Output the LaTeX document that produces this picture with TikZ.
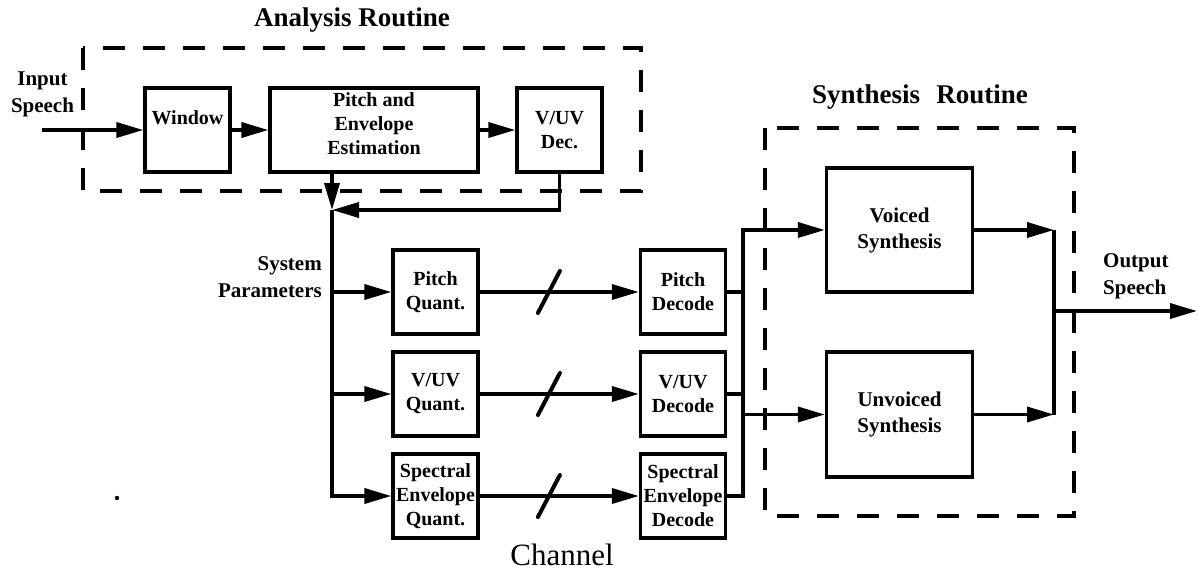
\documentclass[tikz,border=0pt]{standalone}
\usepackage{fontspec}
\setmainfont{Liberation Serif}
\usetikzlibrary{arrows.meta}
\begin{document}
\begin{tikzpicture}[x=1pt,y=-1pt,
  blk/.style={draw, line width=3.3pt, rectangle, inner sep=0pt, align=center,
    font=\fontsize{20}{24}\selectfont\bfseries},
  qbox/.style={blk, minimum width=85pt, minimum height=84pt},
  wire/.style={line width=3.6pt},
  arr/.style={wire, -{Triangle[length=27pt,width=15pt]}},
  slash/.style={line width=4pt, line cap=round},
  dbox/.style={line width=3.8pt, dash pattern=on 22pt off 18pt},
  lbl/.style={font=\fontsize{21}{27}\selectfont\bfseries, inner sep=0pt},
  ttl/.style={font=\fontsize{27}{30}\selectfont\bfseries, inner sep=0pt}
]
\useasboundingbox (0,0) rectangle (1197,574);

% titles and dashed routines
\node[ttl] (atitle) at (352,20) {Analysis Routine};
\node[ttl] (stitle) at (920,97) {Synthesis\hskip0.6em Routine};
\draw[dbox] (83,48) rectangle (641,191);
\draw[dbox] (765,128) rectangle (1074,516);

% analysis blocks
\node[blk, minimum width=85pt, minimum height=84pt] (win) at (187.5,130) {Window\\\mbox{}};
\node[blk, minimum width=208pt, minimum height=84pt] (pe) at (374,130) {Pitch and\\Envelope\\Estimation\\[-12pt]\mbox{}};
\node[qbox] (vuvd) at (559.5,130) {V/UV\\Dec.};

% quantizers and decoders
\node[qbox] (pq) at (435.5,292) {Pitch\\Quant.};
\node[qbox] (vq) at (435.5,394) {V/UV\\Quant.};
\node[qbox] (sq) at (435.5,496) {Spectral\\Envelope\\Quant.};
\node[qbox] (pd) at (683,292) {Pitch\\Decode};
\node[qbox] (vd) at (683,394) {V/UV\\Decode};
\node[qbox] (sd) at (683,496) {Spectral\\Envelope\\Decode};

% synthesis blocks
\node[blk, minimum width=146pt, minimum height=124pt, font=\fontsize{21}{26}\selectfont\bfseries] (vs) at (899.5,230) {Voiced\\Synthesis};
\node[blk, minimum width=146pt, minimum height=125pt, font=\fontsize{21}{26}\selectfont\bfseries] (us) at (899.5,414.5) {Unvoiced\\Synthesis};

% labels
\node[lbl, align=center] (insp) at (42.5,94) {Input\\Speech};
\node[lbl, align=right, anchor=east] (sysp) at (322,277) {System\\Parameters};
\node[lbl, align=left, anchor=west] (outsp) at (1103,276) {Output\\Speech};
\node[font=\fontsize{31}{34}\selectfont, inner sep=0pt] (chan) at (562,555) {Channel};

% coordinates
\coordinate (in) at (42,130);
\coordinate (j1) at (332,210);
\coordinate (r1) at (743,230);
\coordinate (q) at (1054,300);
\coordinate (out) at (1197,311);

% analysis connections
\draw[arr] (in) -- (win.west);
\draw[arr] (win.east) -- (pe.west);
\draw[arr] (pe.east) -- (vuvd.west);
\draw[arr] (pe.south -| j1) -- (j1);
\draw[arr] (vuvd.south) |- (j1);
\draw[arr] (j1) |- (sq.west);
\draw[arr] (pq.west -| j1) -- (pq.west);
\draw[arr] (vq.west -| j1) -- (vq.west);

% channel
\draw[arr] (pq.east) -- (pd.west) coordinate[pos=0.435] (s1);
\draw[arr] (vq.east) -- (vd.west) coordinate[pos=0.435] (s2);
\draw[arr] (sq.east) -- (sd.west) coordinate[pos=0.435] (s3);
\foreach \s in {s1,s2,s3}
  \draw[slash] ([shift={(-11,21)}]\s) -- ([shift={(11,-21)}]\s);

% decoders to synthesis
\draw[wire] (pd.east) -- (pd.east -| r1);
\draw[wire] (vd.east) -- (vd.east -| r1);
\draw[arr] (sd.east) -| (r1) -- (vs.west);
\draw[arr] (us.west -| r1) -- (us.west);

% synthesis outputs
\draw[arr] (vs.east) -- (vs.east -| q);
\draw[arr] (us.east) -- (us.east -| q);
\draw[wire] (vs.east -| q) -- (us.east -| q);
\draw[arr] (out -| q) -- (out);

% stray dot
\fill (117,498) circle (2.2pt);
\end{tikzpicture}
\end{document}
